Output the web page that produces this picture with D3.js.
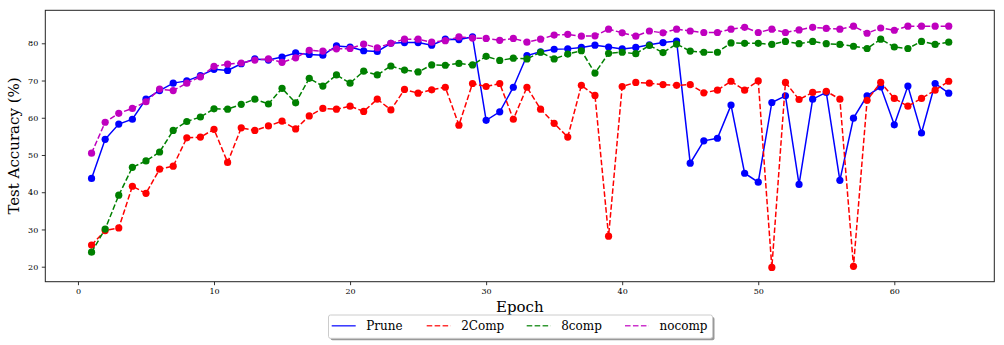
<!DOCTYPE html>
<html>
<head>
<meta charset="utf-8">
<script src="https://cdn.jsdelivr.net/npm/d3@7"></script>
<style>
  html, body { margin: 0; padding: 0; background: #fff; }
  svg { display: block; font-family: "DejaVu Serif", serif; }
</style>
</head>
<body>
<svg id="chart" width="1004" height="345"></svg>
<script>
const epochs = d3.range(1, 65);

const prune = [43.7, 54.2, 58.3, 59.6, 65.0, 67.3, 69.3, 69.9, 71.3, 73.0,
  72.7, 74.5, 75.8, 75.5, 76.3, 77.4, 77.0, 76.8, 79.3, 79.0,
  78.0, 77.8, 80.0, 80.2, 80.2, 79.5, 81.1, 81.0, 81.7, 59.3,
  61.6, 68.2, 76.7, 77.7, 78.4, 78.5, 78.9, 79.5, 79.0, 78.5,
  78.9, 79.6, 80.2, 80.6, 47.8, 53.8, 54.5, 63.4, 45.1, 42.7,
  64.1, 65.9, 42.1, 65.0, 66.8, 43.2, 59.9, 65.9, 68.3, 58.1,
  68.5, 55.9, 69.2, 66.6];

const comp2 = [25.8, 29.7, 30.4, 41.6, 39.7, 46.2, 47.0, 54.6, 54.8, 56.9,
  48.0, 57.3, 56.6, 57.8, 59.1, 57.0, 60.5, 62.5, 62.3, 63.1,
  61.7, 65.0, 62.1, 67.6, 66.6, 67.5, 68.2, 58.0, 69.2, 68.4,
  69.2, 59.6, 68.2, 62.3, 58.5, 54.8, 68.7, 66.0, 28.2, 68.4,
  69.5, 69.3, 68.9, 68.7, 68.9, 66.7, 67.4, 69.8, 67.4, 69.9,
  19.8, 69.5, 64.9, 66.8, 67.1, 65.0, 20.1, 64.7, 69.5, 65.2,
  63.1, 65.2, 67.4, 69.8];

const comp8 = [23.9, 30.1, 39.2, 46.7, 48.4, 50.8, 56.6, 59.0, 60.2, 62.4,
  62.3, 63.6, 65.0, 63.7, 67.9, 64.0, 70.6, 68.5, 71.5, 69.3,
  72.5, 71.5, 73.9, 72.8, 72.3, 74.2, 74.1, 74.6, 74.2, 76.5,
  75.4, 76.0, 75.8, 77.6, 75.8, 77.1, 78.0, 72.0, 77.3, 77.6,
  77.2, 79.4, 77.5, 79.8, 77.9, 77.6, 77.6, 80.1, 80.0, 80.0,
  79.7, 80.5, 79.9, 80.5, 79.9, 79.7, 79.2, 78.6, 81.1, 79.0,
  78.6, 80.5, 79.7, 80.3];

const nocomp = [50.5, 58.8, 61.2, 62.5, 64.3, 67.7, 67.3, 69.3, 71.0, 73.8,
  74.4, 74.7, 75.5, 75.8, 74.9, 76.1, 78.1, 77.9, 78.5, 78.6,
  79.8, 78.8, 80.0, 81.1, 81.1, 80.3, 80.7, 81.7, 81.4, 81.3,
  80.8, 81.3, 80.3, 81.1, 82.2, 82.4, 81.9, 82.0, 83.8, 82.8,
  81.9, 83.3, 82.8, 83.8, 83.3, 82.9, 82.9, 83.8, 84.3, 82.9,
  83.8, 82.9, 83.6, 84.3, 84.0, 83.8, 84.6, 82.7, 84.1, 83.5,
  84.6, 84.6, 84.6, 84.6];

const seriesNames = ["Prune", "2Comp", "8comp", "nocomp"];
const seriesColors = ["#0000ff", "#ff0000", "#008000", "#bf00bf"];
const seriesDash = [null, "5.55,2.4", "5.55,2.4", "5.55,2.4"];
const seriesValues = [prune, comp2, comp8, nocomp];

const xTicks = [0, 10, 20, 30, 40, 50, 60];
const yTicks = [20, 30, 40, 50, 60, 70, 80];

const svg = d3.select("#chart");
const L = 45.3, R = 994.3, T = 10.3, B = 281.7;

const x = d3.scaleLinear().domain([-2.4, 67.35]).range([L, R]);
const y = d3.scaleLinear().domain([15.97, 88.86]).range([B, T]);

// axes
const xAxis = d3.axisBottom(x).tickValues(xTicks).tickSize(3.5).tickPadding(3.5).tickFormat(d3.format("d"));
const yAxis = d3.axisLeft(y).tickValues(yTicks).tickSize(3.5).tickPadding(3.5).tickFormat(d3.format("d"));

const gx = svg.append("g").attr("transform", `translate(0,${B})`).call(xAxis);
const gy = svg.append("g").attr("transform", `translate(${L},0)`).call(yAxis);
[gx, gy].forEach(g => {
  g.select(".domain").remove();
  g.selectAll(".tick line").attr("stroke", "#000").attr("stroke-width", 0.8);
  g.selectAll(".tick text").attr("font-family", "DejaVu Serif, serif").attr("font-size", 8).attr("fill", "#000");
});

// lines + markers
const line = d3.line().x((d, i) => x(epochs[i])).y(d => y(d));
const plot = svg.append("g");
seriesValues.forEach((vals, si) => {
  const g = plot.append("g");
  g.append("path")
    .datum(vals)
    .attr("d", line)
    .attr("fill", "none")
    .attr("stroke", seriesColors[si])
    .attr("stroke-width", 1.5)
    .attr("stroke-dasharray", seriesDash[si]);
  g.selectAll("circle")
    .data(vals)
    .join("circle")
    .attr("cx", (d, i) => x(epochs[i]))
    .attr("cy", d => y(d))
    .attr("r", 3.6)
    .attr("fill", seriesColors[si]);
});

// frame
svg.append("rect")
  .attr("x", L).attr("y", T)
  .attr("width", R - L).attr("height", B - T)
  .attr("fill", "none").attr("stroke", "#222").attr("stroke-width", 1);

// axis labels
svg.append("text")
  .attr("x", (L + R) / 2).attr("y", 312)
  .attr("text-anchor", "middle")
  .attr("font-size", 15).attr("fill", "#000")
  .text("Epoch");

svg.append("text")
  .attr("transform", `translate(19,${(T + B) / 2}) rotate(-90)`)
  .attr("text-anchor", "middle")
  .attr("font-size", 15).attr("fill", "#000")
  .text("Test Accuracy (%)");

// legend
const lg = svg.append("g");
const lx = 328.5, ly = 315, lw = 384, lh = 23.3;
lg.append("rect").attr("x", lx + 2).attr("y", ly + 2).attr("width", lw).attr("height", lh)
  .attr("rx", 2).attr("fill", "#999");
lg.append("rect").attr("x", lx).attr("y", ly).attr("width", lw).attr("height", lh)
  .attr("rx", 2).attr("fill", "#fff").attr("stroke", "#ccc").attr("stroke-width", 1);
const legendLineX = [331.7, 426.7, 526.7, 625];
seriesNames.forEach((name, i) => {
  lg.append("line")
    .attr("x1", legendLineX[i]).attr("x2", legendLineX[i] + 24)
    .attr("y1", 325.8).attr("y2", 325.8)
    .attr("stroke", seriesColors[i]).attr("stroke-opacity", 0.8)
    .attr("stroke-width", 1.5)
    .attr("stroke-dasharray", seriesDash[i]);
  lg.append("text")
    .attr("x", legendLineX[i] + 34.5).attr("y", 330.2)
    .attr("font-size", 12).attr("fill", "#000")
    .text(name);
});
</script>
</body>
</html>
